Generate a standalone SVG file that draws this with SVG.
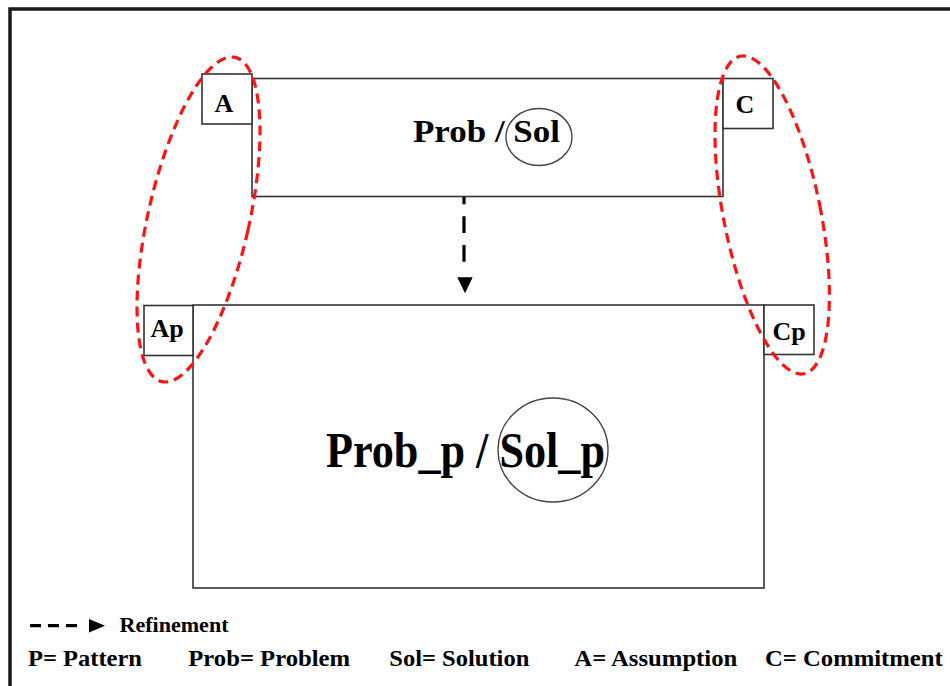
<svg xmlns="http://www.w3.org/2000/svg" width="950" height="686" viewBox="0 0 950 686">
<style>
.box{fill:#fff;stroke:#333;stroke-width:1.6}
.lbl{font-family:"Liberation Serif","Times New Roman",serif;font-weight:bold;fill:#000}
.red{fill:none;stroke:#ff1414;stroke-width:3.2;stroke-dasharray:10 6}
.oval{fill:none;stroke:#444;stroke-width:1.4}
.dash{stroke:#000;stroke-width:3.2;fill:none}
</style>
<rect x="0" y="0" width="950" height="686" fill="#fff"/>
<path d="M10,686 V9 H950" fill="none" stroke="#1a1a1a" stroke-width="3.5"/>

<g id="top-node">
  <rect class="box" x="252" y="78.5" width="471" height="118"/>
  <ellipse class="oval" cx="539" cy="137" rx="33" ry="28.5"/>
  <text class="lbl" x="413" y="142" font-size="32" textLength="147" lengthAdjust="spacingAndGlyphs">Prob / Sol</text>
</g>
<g id="node-A">
  <rect class="box" x="202" y="74" width="50" height="50"/>
  <text class="lbl" x="224" y="112" font-size="26" text-anchor="middle">A</text>
</g>
<g id="node-C">
  <rect class="box" x="723" y="78.5" width="50" height="50"/>
  <text class="lbl" x="745" y="113" font-size="26" text-anchor="middle">C</text>
</g>

<g id="bottom-node">
  <rect class="box" x="193" y="305" width="571" height="283"/>
  <ellipse class="oval" cx="553" cy="450" rx="55" ry="52"/>
  <text class="lbl" x="326" y="467" font-size="50" textLength="279" lengthAdjust="spacingAndGlyphs">Prob_p / Sol_p</text>
</g>
<g id="node-Ap">
  <rect class="box" x="144" y="305.5" width="49" height="50"/>
  <text class="lbl" x="167" y="337" font-size="26" text-anchor="middle">Ap</text>
</g>
<g id="node-Cp">
  <rect class="box" x="764" y="305" width="50" height="49.5"/>
  <text class="lbl" x="789" y="340" font-size="26" text-anchor="middle">Cp</text>
</g>

<g id="groupings">
  <ellipse class="red" cx="198.5" cy="219.5" rx="50.6" ry="166.2" transform="rotate(12.75 198.5 219.5)"/>
  <ellipse class="red" cx="772.2" cy="215" rx="48.5" ry="161.9" transform="rotate(-11.33 772.2 215)"/>
</g>

<g id="connectors">
  <path class="dash" d="M464,261.7 V197" stroke-dasharray="16.7 12"/>
  <polygon points="457.3,277.3 472.7,277.3 465,293.3" fill="#000"/>
</g>

<g id="legend">
  <path class="dash" d="M30,625.7 H82" stroke-dasharray="11 7" stroke-width="3"/>
  <polygon points="89,619 89,632.5 105,625.7" fill="#000"/>
  <text class="lbl" x="119.5" y="631.5" font-size="20" textLength="109" lengthAdjust="spacingAndGlyphs">Refinement</text>
  <text class="lbl" x="28" y="665.7" font-size="24" textLength="114" lengthAdjust="spacingAndGlyphs">P= Pattern</text>
  <text class="lbl" x="188.3" y="665.7" font-size="24" textLength="161.7" lengthAdjust="spacingAndGlyphs">Prob= Problem</text>
  <text class="lbl" x="389.3" y="665.7" font-size="24" textLength="140" lengthAdjust="spacingAndGlyphs">Sol= Solution</text>
  <text class="lbl" x="574.3" y="665.7" font-size="24" textLength="163" lengthAdjust="spacingAndGlyphs">A= Assumption</text>
  <text class="lbl" x="765" y="665.7" font-size="24" textLength="177.7" lengthAdjust="spacingAndGlyphs">C= Commitment</text>
</g>
</svg>
